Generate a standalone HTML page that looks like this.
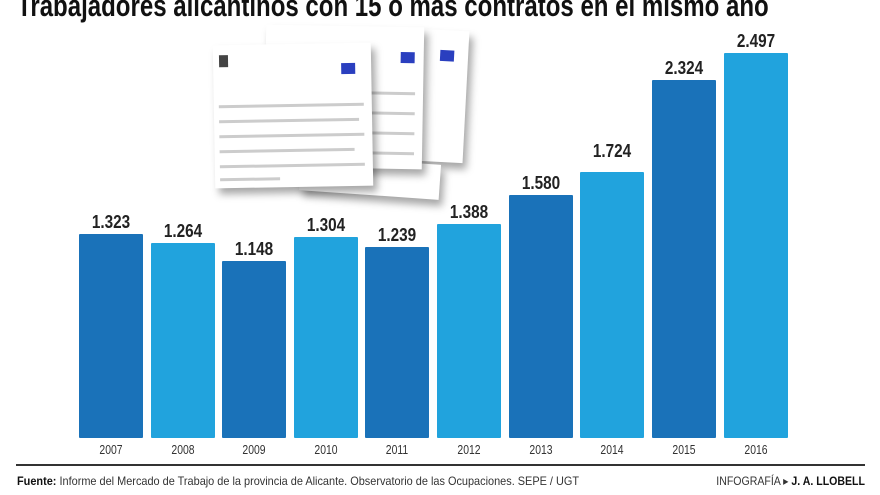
<!DOCTYPE html>
<html><head><meta charset="utf-8"><style>
body{margin:0;width:880px;height:495px;background:#fff;position:relative;overflow:hidden;font-family:"Liberation Sans",sans-serif}
.t{position:absolute;white-space:nowrap}
.bar{position:absolute;bottom:57px;width:64px;border-radius:1px}
.d{background:#1a72b9}.l{background:#21a3dd}
.v{position:absolute;width:64px;text-align:center;font-weight:bold;font-size:18px;color:#222;transform:scaleX(.85)}
.y{position:absolute;top:442px;width:64px;text-align:center;font-size:13px;color:#333;transform:scaleX(.8)}
.doc{position:absolute;background:#fff;box-shadow:4px 6px 8px rgba(0,0,0,.35)}
.ln{position:absolute;height:3px;background:#ccc}
.eu{position:absolute;width:14px;height:11px;background:#2a3fbf}
</style></head><body>
<div class="t" style="left:17px;top:-12px;font-size:31px;font-weight:bold;color:#111;transform:scaleX(.775);transform-origin:left">Trabajadores alicantinos con 15 o más contratos en el mismo año</div>

<div class="doc" style="left:418px;top:30px;width:48px;height:132px;transform:rotate(3deg)"><div class="eu" style="left:20px;top:20px"></div></div>
<div class="doc" style="left:300px;top:160px;width:140px;height:35px;transform:rotate(4deg)"></div>
<div class="doc" style="left:265px;top:26px;width:158px;height:142px;transform:rotate(1deg)"><div class="eu" style="left:135px;top:25px"></div>
<div class="ln" style="left:80px;top:65px;width:70px"></div><div class="ln" style="left:80px;top:85px;width:70px"></div><div class="ln" style="left:80px;top:105px;width:70px"></div><div class="ln" style="left:80px;top:125px;width:70px"></div></div>
<div class="doc" style="left:214px;top:44px;width:158px;height:143px;transform:rotate(-1deg)"><div style="position:absolute;left:6px;top:10px;width:9px;height:12px;background:#444"></div><div class="eu" style="left:128px;top:20px"></div>
<div class="ln" style="left:5px;top:60px;width:145px"></div><div class="ln" style="left:5px;top:75px;width:140px"></div><div class="ln" style="left:5px;top:90px;width:145px"></div><div class="ln" style="left:5px;top:105px;width:135px"></div><div class="ln" style="left:5px;top:120px;width:145px"></div><div class="ln" style="left:5px;top:133px;width:60px"></div></div>

<div class="bar d" style="left:79px;height:204px"></div>
<div class="bar l" style="left:151px;height:195px"></div>
<div class="bar d" style="left:222px;height:177px"></div>
<div class="bar l" style="left:294px;height:201px"></div>
<div class="bar d" style="left:365px;height:191px"></div>
<div class="bar l" style="left:437px;height:214px"></div>
<div class="bar d" style="left:509px;height:243px"></div>
<div class="bar l" style="left:580px;height:266px"></div>
<div class="bar d" style="left:652px;height:358px"></div>
<div class="bar l" style="left:724px;height:385px"></div>

<div class="v" style="left:79px;top:212px">1.323</div>
<div class="v" style="left:151px;top:221px">1.264</div>
<div class="v" style="left:222px;top:239px">1.148</div>
<div class="v" style="left:294px;top:215px">1.304</div>
<div class="v" style="left:365px;top:225px">1.239</div>
<div class="v" style="left:437px;top:202px">1.388</div>
<div class="v" style="left:509px;top:173px">1.580</div>
<div class="v" style="left:580px;top:141px">1.724</div>
<div class="v" style="left:652px;top:58px">2.324</div>
<div class="v" style="left:724px;top:31px">2.497</div>

<div class="y" style="left:79px">2007</div><div class="y" style="left:151px">2008</div><div class="y" style="left:222px">2009</div><div class="y" style="left:294px">2010</div><div class="y" style="left:365px">2011</div><div class="y" style="left:437px">2012</div><div class="y" style="left:509px">2013</div><div class="y" style="left:580px">2014</div><div class="y" style="left:652px">2015</div><div class="y" style="left:724px">2016</div>

<div style="position:absolute;left:16px;top:464px;width:849px;height:2px;background:#333"></div>
<div class="t" style="left:17px;top:474px;font-size:12px;color:#333;transform:scaleX(.91);transform-origin:left"><b style="color:#111">Fuente:</b> Informe del Mercado de Trabajo de la provincia de Alicante. Observatorio de las Ocupaciones. SEPE / UGT</div>
<div class="t" style="right:15px;top:474px;font-size:12px;color:#333;transform:scaleX(.88);transform-origin:right">INFOGRAFÍA ▸ <b style="color:#111">J. A. LLOBELL</b></div>
</body></html>
